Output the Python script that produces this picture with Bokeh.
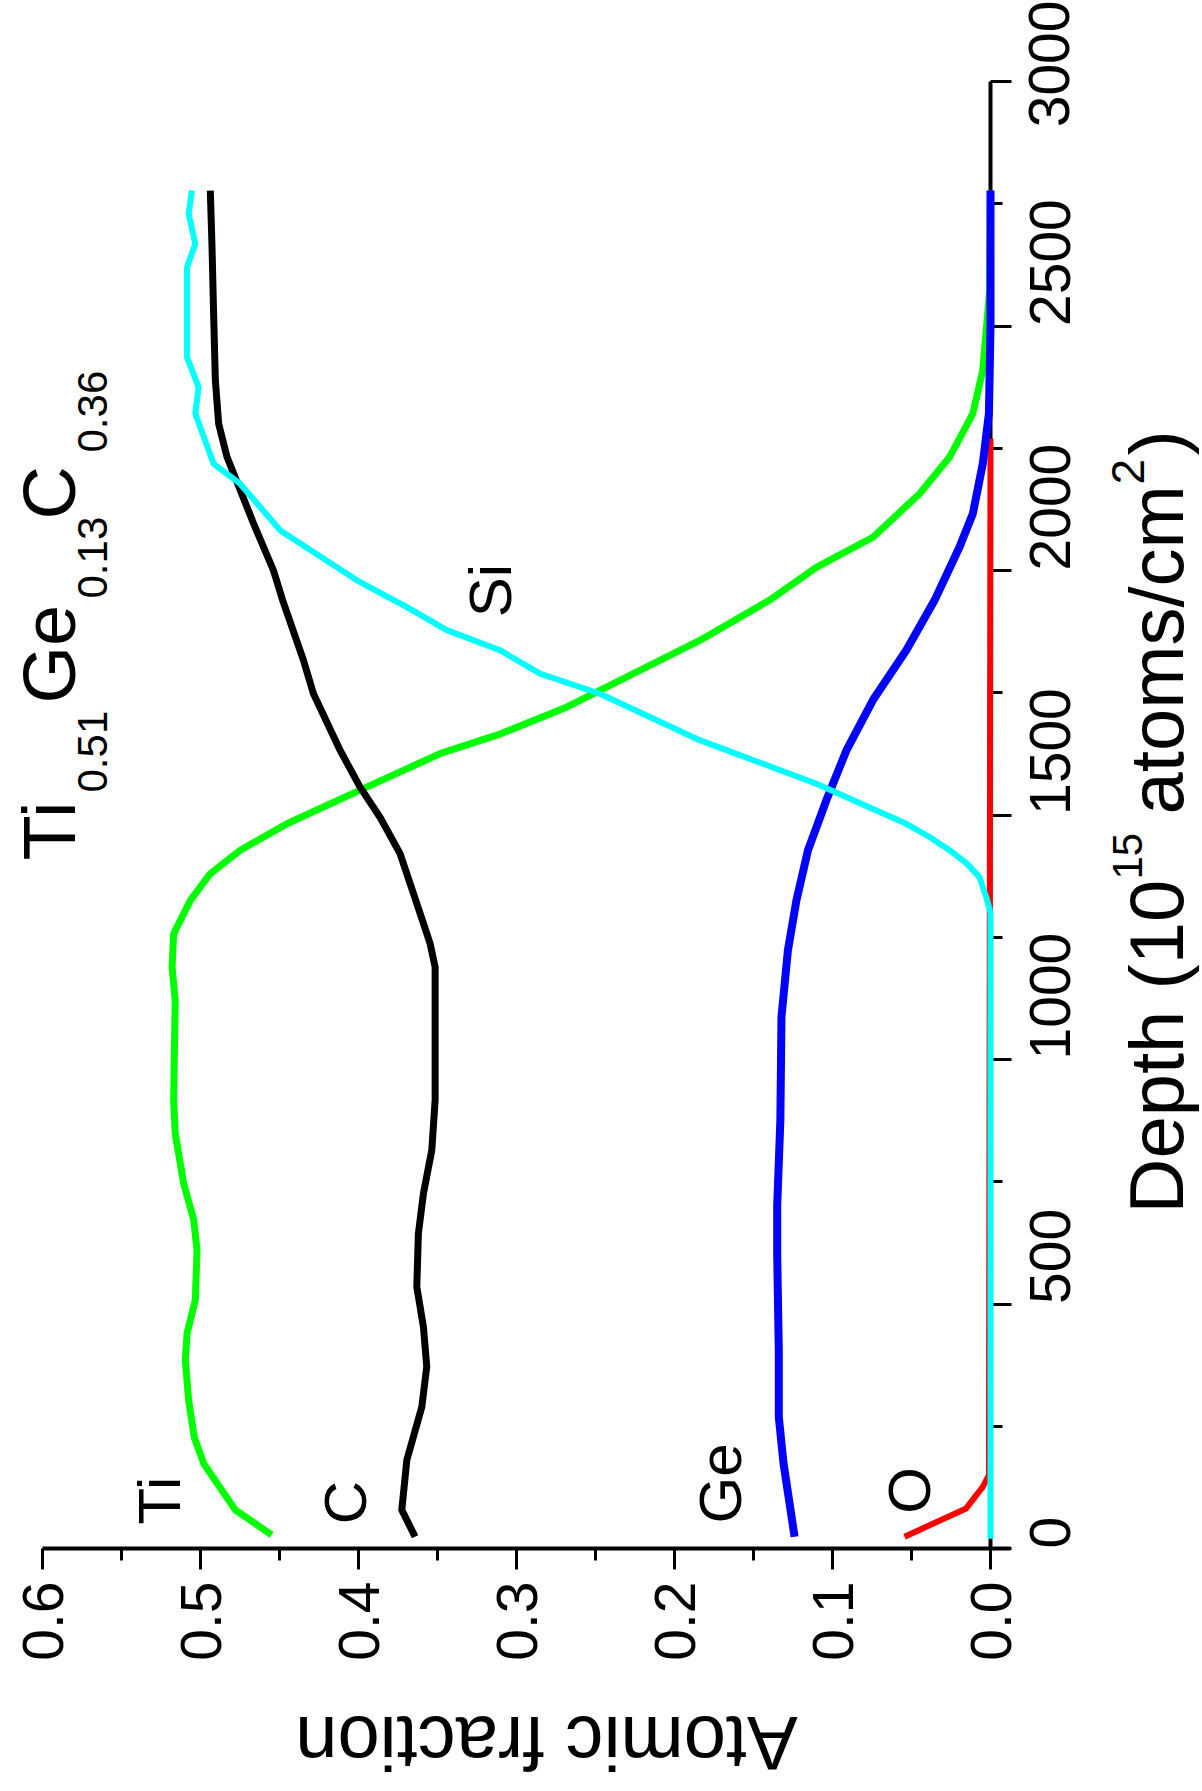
from math import pi
import numpy as np
from bokeh.plotting import figure
from bokeh.models import Range1d, FixedTicker, Label
from bokeh.embed import file_html
from bokeh.resources import INLINE

# ---------------- data ----------------
ti_depth = [28, 79, 174, 228, 303, 385, 440, 508, 610, 672, 747, 849, 917, 1121, 1189, 1257,
            1285, 1326, 1380, 1407, 1428, 1482, 1551, 1626, 1666, 1721, 1789, 1857, 1939, 2007,
            2068, 2157, 2232, 2321, 2409, 2491, 2573, 2777]
ti_frac = [0.455, 0.478, 0.498, 0.504, 0.5075, 0.5096, 0.5085, 0.5033, 0.5022, 0.5043, 0.5107,
           0.516, 0.517, 0.516, 0.518, 0.517, 0.5127, 0.5063, 0.4938, 0.4832, 0.4748, 0.4453,
           0.399, 0.348, 0.310, 0.268, 0.226, 0.184, 0.140, 0.110, 0.0744, 0.0449, 0.0259,
           0.0112, 0.0049, 0.0027, 0.0005, 0.0]

c_depth = [24, 79, 181, 290, 372, 453, 535, 644, 726, 815, 917, 1053, 1189, 1237, 1258, 1339,
           1421, 1495, 1557, 1632, 1748, 1816, 1939, 2000, 2096, 2164, 2232, 2300, 2389, 2525,
           2661, 2777]
c_frac = [0.3642, 0.3726, 0.3694, 0.3599, 0.3568, 0.3589, 0.3631, 0.3621, 0.3589, 0.3536,
          0.3515, 0.3515, 0.3515, 0.3547, 0.3568, 0.3652, 0.3737, 0.3863, 0.399, 0.4116,
          0.4285, 0.4348, 0.448, 0.4538, 0.4664, 0.4748, 0.4832, 0.4885, 0.4906, 0.4917,
          0.4927, 0.4938]

ge_depth = [24, 174, 269, 406, 600, 700, 876, 1087, 1224, 1326, 1428, 1530, 1632, 1735, 1837,
            1939, 2048, 2116, 2218, 2321, 2500, 2777]
ge_frac = [0.124, 0.131, 0.134, 0.134, 0.135, 0.135, 0.133, 0.1323, 0.1282, 0.1228, 0.1155,
           0.1039, 0.0912, 0.0744, 0.0533, 0.0354, 0.0196, 0.0112, 0.0049, 0.001, 0.0, 0.0]

o_depth = [24, 82, 126, 150, 2270]
o_frac = [0.0544, 0.0154, 0.0049, 0.001, 0.0]

si_depth = [20, 1300, 1332, 1373, 1400, 1428, 1455, 1482, 1564, 1653, 1748, 1789, 1837, 1878,
            1925, 1980, 2082, 2177, 2218, 2321, 2375, 2436, 2620, 2668, 2730, 2777]
si_frac = [0.0, 0.0, 0.0027, 0.007, 0.0147, 0.0259, 0.0386, 0.0533, 0.1102, 0.184, 0.2472,
           0.2851, 0.3104, 0.3441, 0.3694, 0.401, 0.4495, 0.4748, 0.4917, 0.5033, 0.5012,
           0.5085, 0.5085, 0.5033, 0.5075, 0.5054]

frac_ticks = [0.0, 0.1, 0.2, 0.3, 0.4, 0.5, 0.6]
frac_tick_labels = ["0.0", "0.1", "0.2", "0.3", "0.4", "0.5", "0.6"]
depth_ticks = [0, 500, 1000, 1500, 2000, 2500, 3000]
depth_tick_labels = ["0", "500", "1000", "1500", "2000", "2500", "3000"]

# ---------------- layout (picture pixel geometry) ----------------
FONT = "Liberation Sans"
W, H = 1202, 1790              # canvas; the frame covers the whole canvas
PX_F06, PX_F0 = 42.0, 990.0    # picture x of fraction 0.6 and 0.0
PY_D0, PY_D3000 = 1548.0, 81.0  # picture y of depth 0 and 3000


def fx(px):
    return 0.6 * (PX_F0 - px) / (PX_F0 - PX_F06)


def fy(py):
    return 3000.0 * (PY_D0 - py) / (PY_D0 - PY_D3000)


p = figure(width=W, height=H,
           x_range=Range1d(fx(0), fx(W)), y_range=Range1d(fy(H), fy(0)),
           x_axis_location="below", y_axis_location="right",
           output_backend="svg", toolbar_location=None, tools="", min_border=0)
p.outline_line_color = None
p.grid.visible = False
p.background_fill_color = "white"

frac_minor = list(np.round(np.arange(0.05, 0.6, 0.1), 3))
depth_minor = list(np.arange(250, 3000, 500))

xa = p.xaxis[0]
xa.fixed_location = 0
xa.bounds = (fx(1010), 0.6)
xa.ticker = FixedTicker(ticks=frac_ticks, minor_ticks=frac_minor)
xa.major_label_overrides = {t: l for t, l in zip(frac_ticks, frac_tick_labels)}
ya = p.yaxis[0]
ya.fixed_location = 0
ya.bounds = (0, 3000)
ya.ticker = FixedTicker(ticks=depth_ticks, minor_ticks=depth_minor)
ya.major_label_overrides = {t: l for t, l in zip(depth_ticks, depth_tick_labels)}

for ax in (xa, ya):
    ax.axis_line_width = 4
    ax.axis_line_color = "black"
    ax.major_tick_line_width = 3
    ax.minor_tick_line_width = 3
    ax.major_tick_in = 0
    ax.minor_tick_in = 0
    ax.major_tick_out = 21
    ax.minor_tick_out = 12
    ax.major_label_text_font = FONT
    ax.major_label_text_font_size = "57px"
    ax.major_label_text_color = "black"
    ax.major_label_orientation = pi / 2
xa.major_label_standoff = 12
ya.major_label_standoff = 38

# ---------------- curves ----------------
series = [
    (o_depth, o_frac, "#ff0000", 6),
    (ti_depth, ti_frac, "#00ff00", 7),
    (ge_depth, ge_frac, "#0000ff", 8),
    (c_depth, c_frac, "#000000", 7),
    (si_depth, si_frac, "#00ffff", 6),
]
for d, f, col, lw in series:
    p.line(x=f, y=d, line_color=col, line_width=lw, line_join="round", level="overlay")


# ---------------- texts (anchored at the cap-centre line) ----------------
def add_text(txt, px, py, size, angle=pi / 2, align="left"):
    p.add_layout(Label(x=fx(px), y=fy(py), text=txt, angle=angle,
                       text_font=FONT, text_font_size=f"{size}px", text_color="black",
                       text_align=align, text_baseline="middle"))


# element labels
add_text("Ti", 159, 1500, 60, align="center")
add_text("C", 345, 1502, 60, align="center")
add_text("Ge", 720, 1483, 60, align="center")
add_text("O", 909, 1490, 60, align="center")
add_text("Si", 490, 590, 60, align="center")

# composition title
add_text("Ti", 49, 860, 74)
add_text("0.51", 92, 792, 42)
add_text("Ge", 49, 703, 74)
add_text("0.13", 92, 598, 42)
add_text("C", 49, 519, 74)
add_text("0.36", 92, 452, 42)

# depth axis label
add_text("Depth (10", 1156, 1213, 76)
add_text("15", 1127, 879, 42)
add_text("atoms/cm", 1156, 814, 76)
add_text("2", 1127, 484, 46)
add_text(")", 1156, 455, 76)

# atomic fraction axis label (upside down)
add_text("Atomic fraction", 546, 1743, 76, angle=pi, align="center")

open("out.html", "w").write(file_html(p, INLINE))
